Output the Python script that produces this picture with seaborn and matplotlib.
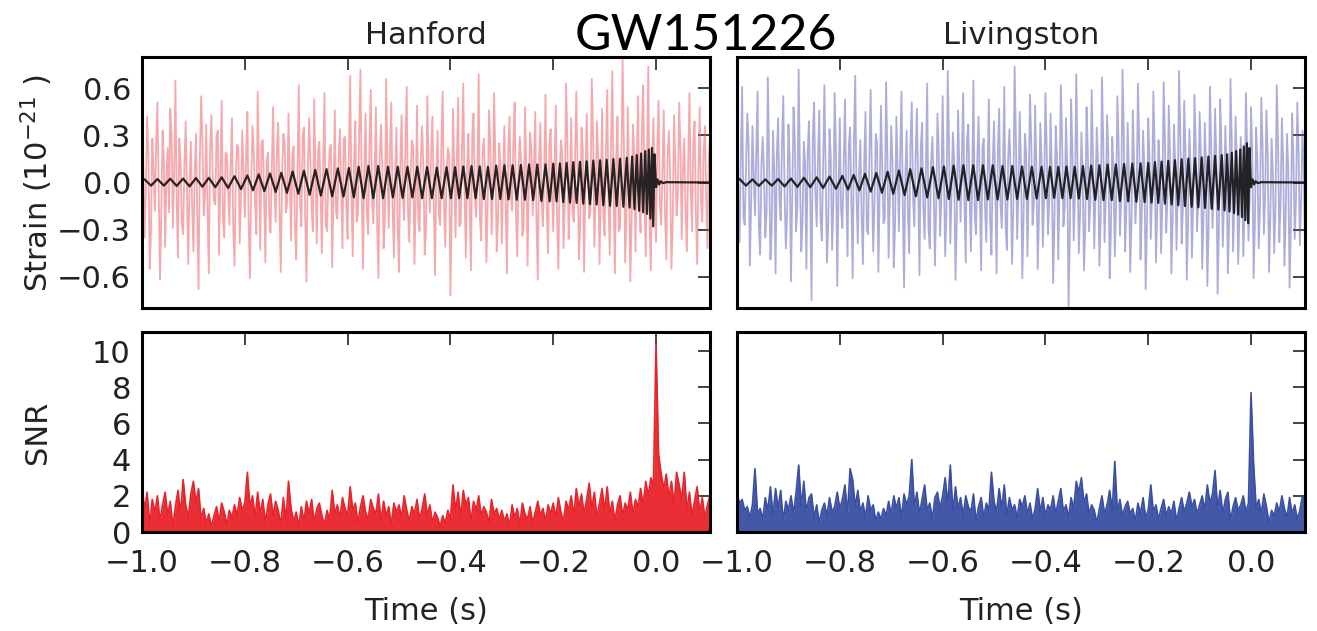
import numpy as np
import matplotlib
matplotlib.use("Agg")
import matplotlib.pyplot as plt
import seaborn as sns

# ---------------- data ----------------
SNR_DT = 0.005     # s, SNR sample spacing, starting at t = -1.0
NOISE_DT = 0.0025  # s, strain sample spacing, starting at t = -1.0

# strain samples at the whole steps (t = -1.0, -0.995, ...)
hanford_noise = [
    0.74,-0.35,0.42,-0.55,0.28,-0.18,0.51,-0.62,0.33,-0.41,0.22,0.47,-0.29,0.65,-0.48,0.15,-0.33,0.39,-0.52,0.26,
    -0.44,0.31,-0.68,0.55,-0.21,0.37,-0.58,0.43,-0.12,0.29,-0.46,0.52,-0.35,0.18,-0.27,0.41,-0.53,0.24,-0.39,0.33,
    -0.22,0.45,-0.61,0.36,-0.14,0.58,-0.43,0.27,-0.51,0.19,-0.32,0.48,-0.25,0.38,-0.57,0.31,-0.19,0.44,-0.37,0.23,
    -0.49,0.62,-0.28,0.35,-0.63,0.41,-0.17,0.53,-0.39,0.26,-0.45,0.57,-0.31,0.21,-0.54,0.46,-0.23,0.34,-0.42,0.29,
    -0.36,0.68,-0.47,0.39,-0.21,0.72,-0.55,0.44,-0.33,0.59,-0.26,0.48,-0.61,0.37,-0.42,0.66,-0.29,0.51,-0.48,0.35,
    -0.57,0.43,-0.24,0.61,-0.38,0.27,-0.52,0.49,-0.31,0.36,-0.46,0.55,-0.19,0.42,-0.59,0.33,-0.27,0.58,-0.41,0.22,
    -0.72,0.47,-0.35,0.54,-0.26,0.63,-0.48,0.31,-0.56,0.44,-0.22,0.69,-0.37,0.28,-0.51,0.46,-0.33,0.57,-0.44,0.25,
    -0.39,0.36,-0.58,0.42,-0.18,0.51,-0.47,0.29,-0.34,0.48,-0.53,0.32,-0.21,0.45,-0.62,0.38,-0.28,0.56,-0.45,0.34,
    -0.31,0.49,-0.55,0.27,-0.42,0.63,-0.36,0.41,-0.25,0.58,-0.49,0.35,-0.57,0.44,-0.23,0.66,-0.41,0.39,-0.52,0.47,
    -0.34,0.59,-0.46,0.71,-0.58,0.42,-0.29,0.78,-0.51,0.48,-0.63,0.37,-0.44,0.55,-0.32,0.62,-0.47,0.74,-0.56,0.41,
    -0.38,0.52,-0.27,0.46,-0.49,0.33,-0.55,0.43,-0.21,0.51,-0.36,0.28,-0.44,0.57,-0.31,0.39,-0.52,0.48,-0.25,0.36,
    -0.42,0.30,
]
# strain samples at the half steps (t = -0.9975, -0.9925, ...)
hanford_noise_mid = [
    0.12,-0.05,0.18,-0.31,0.09,0.24,-0.08,-0.22,0.15,0.04,-0.19,0.31,0.07,-0.12,0.28,-0.26,0.11,-0.07,0.02,-0.15,
    0.06,-0.21,0.13,0.27,-0.09,-0.18,0.21,0.05,-0.14,0.33,0.08,-0.24,0.19,-0.06,0.12,-0.29,0.04,0.22,-0.11,0.07,
    0.17,-0.26,0.03,0.19,-0.33,0.11,0.26,-0.08,0.14,-0.21,0.09,-0.04,0.23,-0.17,0.06,0.25,-0.13,0.02,0.18,-0.28,
    0.08,-0.14,0.29,-0.23,0.05,0.16,-0.31,0.07,0.20,-0.10,0.13,-0.27,0.02,0.24,-0.08,-0.19,0.15,-0.05,0.28,-0.16,
    0.21,-0.09,0.14,-0.25,0.32,-0.06,0.11,-0.20,0.26,-0.13,0.04,-0.28,0.17,0.09,-0.22,0.10,0.23,-0.15,0.06,-0.30,
    0.13,-0.07,0.25,-0.18,0.05,0.22,-0.12,-0.24,0.16,0.08,-0.30,0.11,0.19,-0.09,0.03,-0.21,0.27,-0.14,0.07,0.18,
    -0.20,0.09,0.15,-0.28,0.22,-0.06,0.12,-0.17,0.30,-0.10,0.04,-0.23,0.18,0.06,-0.15,0.26,-0.08,0.13,-0.25,0.10,
    0.03,-0.16,0.21,-0.09,0.27,-0.20,0.08,0.14,-0.29,0.12,-0.05,0.20,0.10,-0.26,0.16,-0.11,0.06,-0.19,0.24,-0.07,
    0.11,-0.24,0.05,0.18,-0.13,0.29,-0.10,-0.20,0.15,0.07,-0.27,0.22,-0.04,0.12,-0.18,0.31,-0.09,0.16,-0.06,-0.22,
    0.19,-0.12,0.27,-0.07,0.14,-0.31,0.09,0.23,-0.16,0.05,-0.24,0.20,0.11,-0.13,0.34,-0.08,0.17,-0.28,0.12,-0.10,
    0.24,-0.15,0.07,-0.21,0.16,0.04,-0.26,0.13,-0.08,0.22,0.09,-0.18,0.11,-0.05,0.25,-0.20,0.06,-0.12,0.19,-0.09,
    0.14,
]

livingston_noise = [
    0.52,-0.38,0.61,-0.27,0.44,-0.53,0.36,-0.21,0.58,-0.46,0.29,-0.35,0.67,-0.49,0.33,-0.58,0.41,-0.24,0.55,-0.42,
    0.37,-0.63,0.48,-0.31,0.72,-0.44,0.26,-0.55,0.39,-0.75,0.51,-0.28,0.46,-0.37,0.62,-0.51,0.34,-0.43,0.57,-0.66,
    0.41,-0.29,0.53,-0.47,0.35,-0.61,0.68,-0.39,0.27,-0.52,0.45,-0.33,0.59,-0.44,0.31,-0.57,0.49,-0.26,0.64,-0.48,
    0.36,-0.54,0.42,-0.31,0.58,-0.67,0.33,-0.45,0.51,-0.28,0.47,-0.59,0.38,-0.36,0.63,-0.42,0.29,-0.53,0.44,-0.34,
    0.55,-0.47,0.71,-0.39,0.32,-0.62,0.46,-0.25,0.57,-0.51,0.37,-0.44,0.65,-0.33,0.42,-0.56,0.28,-0.38,0.53,-0.46,
    0.39,-0.58,0.47,-0.29,0.61,-0.43,0.34,-0.52,0.74,-0.36,0.45,-0.61,0.31,-0.47,0.56,-0.27,0.49,-0.55,0.38,-0.41,
    0.57,-0.33,0.44,-0.64,0.36,-0.49,0.62,-0.28,0.41,-0.79,0.53,-0.37,0.69,-0.45,0.32,-0.56,0.48,-0.31,0.59,-0.42,
    0.35,-0.53,0.67,-0.38,0.43,-0.61,0.29,-0.47,0.55,-0.34,0.72,-0.44,0.38,-0.57,0.46,-0.26,0.63,-0.49,0.33,-0.68,
    0.41,-0.36,0.58,-0.51,0.27,-0.45,0.64,-0.32,0.49,-0.58,0.37,-0.43,0.71,-0.39,0.52,-0.62,0.34,-0.48,0.56,-0.31,
    0.45,-0.55,0.38,-0.66,0.61,-0.29,0.47,-0.71,0.53,-0.41,0.36,-0.58,0.66,-0.44,0.42,-0.52,0.29,-0.47,0.57,-0.37,
    0.48,-0.61,0.35,-0.42,0.54,-0.33,0.46,-0.57,0.28,-0.45,0.62,-0.38,0.41,-0.53,0.31,-0.67,0.44,-0.36,0.51,-0.40,
    0.33,-0.45,
]
livingston_noise_mid = [
    -0.09,0.17,-0.22,0.08,0.26,-0.14,0.05,0.21,-0.28,0.11,0.06,-0.19,0.13,-0.31,0.07,0.18,-0.10,0.24,-0.05,-0.20,
    0.15,-0.08,0.27,-0.16,0.04,-0.25,0.12,0.20,-0.11,0.29,-0.06,0.14,-0.22,0.09,0.03,-0.27,0.16,-0.13,0.21,-0.07,
    -0.18,0.10,-0.04,0.23,-0.15,0.28,-0.09,0.06,-0.21,0.13,-0.30,0.17,0.02,-0.12,0.25,-0.08,0.11,-0.23,0.19,-0.06,
    0.14,-0.27,0.08,0.18,-0.12,0.05,-0.20,0.26,-0.10,0.16,-0.03,0.22,-0.17,0.09,-0.29,0.12,0.04,-0.15,0.20,-0.11,
    0.07,-0.19,0.24,-0.05,0.13,-0.26,0.10,0.18,-0.14,0.28,-0.08,0.03,-0.21,0.15,-0.10,0.23,-0.16,0.06,-0.24,0.12,
    -0.04,0.20,-0.13,0.09,-0.27,0.16,0.05,-0.18,0.30,-0.07,0.12,-0.22,0.19,-0.02,0.25,-0.14,0.08,-0.20,0.14,-0.09,
    0.22,-0.11,0.06,-0.25,0.17,-0.04,0.27,-0.16,0.10,-0.33,0.20,-0.08,0.14,-0.19,0.05,-0.28,0.21,-0.12,0.16,-0.06,
    0.11,-0.23,0.26,-0.09,0.18,-0.30,0.07,-0.15,0.22,-0.10,0.29,-0.18,0.04,-0.24,0.13,-0.07,0.25,-0.20,0.09,-0.27,
    0.16,-0.06,0.21,-0.19,0.10,-0.14,0.28,-0.09,0.17,-0.25,0.12,-0.05,0.30,-0.16,0.20,-0.26,0.08,-0.13,0.23,-0.11,
    0.18,-0.22,0.10,-0.29,0.25,-0.07,0.15,-0.30,0.21,-0.12,0.06,-0.24,0.27,-0.15,0.13,-0.20,0.05,-0.17,0.22,-0.10,
    0.19,-0.26,0.12,-0.14,0.23,-0.08,0.17,-0.24,0.06,-0.18,0.26,-0.13,0.15,-0.22,0.09,-0.28,0.16,-0.11,0.20,-0.13,
    0.12,
]

# times (s) of the template extrema, shared by both detectors
chirp_times = [
    -0.995,-0.9825,-0.970,-0.9575,-0.945,-0.9325,-0.920,-0.9075,-0.895,-0.8825,-0.870,-0.8575,-0.845,-0.8325,-0.820,-0.8075,
    -0.795,-0.784,-0.773,-0.762,-0.751,-0.740,-0.729,-0.718,-0.707,-0.696,-0.685,-0.674,-0.663,-0.652,-0.641,-0.630,-0.619,-0.608,
    -0.5975,-0.588,-0.5785,-0.569,-0.5595,-0.550,-0.5405,-0.531,-0.5215,-0.512,-0.5025,-0.493,-0.4835,-0.474,-0.4645,-0.455,-0.4455,-0.436,-0.4265,-0.417,-0.4075,
    -0.399,-0.391,-0.383,-0.375,-0.367,-0.359,-0.351,-0.343,-0.335,-0.327,-0.319,-0.311,-0.303,-0.295,-0.287,-0.279,-0.271,-0.263,-0.255,-0.247,-0.239,-0.231,-0.223,-0.215,-0.207,
    -0.200,-0.1935,-0.187,-0.1805,-0.174,-0.1675,-0.161,-0.1545,-0.148,-0.1415,-0.135,-0.1285,-0.122,-0.1155,-0.109,-0.1025,-0.096,-0.0895,-0.083,-0.0765,-0.070,-0.0635,-0.057,
    -0.0515,-0.0465,-0.042,-0.0375,-0.033,-0.029,-0.025,-0.021,-0.0175,-0.014,-0.011,-0.008,-0.0055,-0.003,
    0.000,0.003,0.006,0.009,0.013,0.020,0.105,
]

hanford_template = [
    0.02,-0.02,0.022,-0.02,0.024,-0.022,0.025,-0.025,0.028,-0.027,0.03,-0.03,0.033,-0.035,0.04,-0.042,
    0.045,-0.05,0.052,-0.055,0.058,-0.06,0.062,-0.066,0.07,-0.072,0.075,-0.078,0.08,-0.083,0.085,-0.088,0.09,-0.09,
    0.092,-0.095,0.1,-0.1,0.105,-0.1,0.105,-0.1,0.1,-0.095,0.1,-0.098,0.1,-0.095,0.1,-0.1,0.098,-0.1,0.095,-0.1,0.098,
    -0.1,0.098,-0.1,0.102,-0.1,0.105,-0.1,0.102,-0.105,0.1,-0.105,0.108,-0.105,0.11,-0.108,0.11,-0.11,0.112,-0.11,0.115,-0.112,0.115,-0.118,0.115,-0.12,
    0.12,-0.12,0.122,-0.125,0.125,-0.128,0.13,-0.13,0.132,-0.135,0.135,-0.138,0.14,-0.14,0.142,-0.145,0.145,-0.148,0.15,-0.15,0.152,-0.155,0.158,
    -0.16,0.165,-0.17,0.175,-0.18,0.185,-0.19,0.2,-0.2,0.21,-0.23,0.22,-0.28,0.18,
    -0.03,0.02,-0.012,0.008,-0.004,0.002,0.0,
]

livingston_template = [
    0.022,-0.02,0.02,-0.022,0.02,-0.02,0.022,-0.025,0.025,-0.028,0.03,-0.03,0.033,-0.035,0.038,-0.04,
    0.042,-0.045,0.048,-0.05,0.055,-0.058,0.06,-0.065,0.068,-0.072,0.076,-0.08,0.085,-0.088,0.09,-0.095,0.098,-0.1,
    0.102,-0.105,0.108,-0.11,0.11,-0.112,0.11,-0.112,0.11,-0.108,0.11,-0.108,0.105,-0.108,0.105,-0.105,0.102,-0.105,0.1,-0.102,0.1,
    -0.1,0.1,-0.098,0.1,-0.1,0.102,-0.1,0.1,-0.102,0.105,-0.105,0.108,-0.11,0.11,-0.112,0.115,-0.112,0.115,-0.118,0.118,-0.12,0.12,-0.122,0.122,-0.125,
    0.125,-0.128,0.13,-0.13,0.133,-0.135,0.138,-0.14,0.142,-0.145,0.148,-0.15,0.152,-0.155,0.155,-0.158,0.16,-0.162,0.165,-0.168,0.17,-0.172,0.175,
    -0.178,0.18,-0.185,0.19,-0.195,0.2,-0.205,0.21,-0.22,0.23,-0.24,0.25,-0.26,0.22,
    -0.03,0.02,-0.012,0.008,-0.004,0.002,0.0,
]

hanford_snr = [
    2.6,1.2,2.2,0.4,1.8,1.1,2.0,0.6,1.5,2.2,0.9,1.7,0.3,1.4,2.3,1.0,2.9,1.5,0.8,2.1,
    2.8,1.6,2.4,0.7,1.3,0.5,1.0,0.3,0.9,1.4,0.6,1.6,1.1,0.4,1.2,0.8,1.5,0.9,1.9,1.2,
    1.6,3.3,1.4,2.0,0.8,2.2,1.0,1.8,0.5,1.5,2.1,0.9,1.7,1.2,0.4,1.9,0.7,2.8,1.3,0.6,
    1.1,0.3,1.4,0.6,1.7,1.0,1.8,0.5,1.3,1.6,0.9,0.4,1.2,0.7,2.3,1.0,1.5,0.8,1.9,1.3,
    0.9,2.5,1.2,1.6,0.5,1.4,2.0,1.1,0.7,1.8,1.3,1.0,2.1,0.6,1.7,0.9,1.4,0.4,1.6,1.1,
    1.5,0.8,2.0,1.2,0.6,1.4,1.0,1.8,0.7,1.3,2.1,0.9,1.5,0.5,1.1,0.8,0.3,0.9,0.5,1.2,
    0.7,2.6,1.2,2.2,0.8,2.3,1.5,1.9,0.6,1.7,1.2,2.0,0.9,1.4,1.1,0.5,1.8,1.0,1.3,0.7,
    1.2,0.6,1.0,0.3,1.5,0.8,1.3,0.4,1.6,1.0,0.7,1.4,0.5,1.1,1.7,0.9,1.3,0.6,1.5,1.0,
    1.6,0.8,1.9,1.1,0.6,1.7,1.2,2.0,0.9,2.4,1.4,2.1,1.0,1.8,2.7,1.3,2.2,0.8,1.6,2.4,
    1.2,2.5,1.0,1.7,0.6,1.5,2.0,0.9,1.6,1.2,2.2,1.0,1.8,1.4,2.4,1.5,2.8,2.0,3.0,2.6,
    10.4,4.3,3.2,2.4,3.2,1.9,2.8,1.5,3.3,2.6,1.8,3.3,1.2,2.2,0.9,1.7,2.5,1.1,1.9,0.8,
    1.5,2.0,
]

livingston_snr = [
    2.1,1.6,1.8,1.2,1.4,0.8,1.5,3.5,1.0,1.3,0.7,1.9,1.2,2.5,0.9,2.4,1.3,2.3,0.6,1.7,
    1.2,2.0,1.0,2.2,3.7,1.4,2.8,1.1,1.9,2.1,0.8,1.5,0.5,1.2,1.6,0.9,1.9,1.1,1.4,2.2,
    1.3,1.8,2.6,1.0,3.5,2.9,1.4,2.3,1.1,1.6,0.8,2.0,1.2,1.5,0.6,1.1,0.7,1.3,0.9,1.7,
    1.0,2.0,1.3,1.9,0.8,2.1,1.5,2.0,4.0,1.4,2.2,1.0,1.8,2.6,1.2,1.6,0.7,1.9,2.2,1.3,
    2.0,3.0,1.5,3.7,1.1,2.5,1.3,1.9,0.9,2.0,1.4,1.1,2.1,0.6,1.4,1.9,0.8,1.6,1.2,3.3,
    1.7,1.1,2.4,1.3,2.6,0.9,1.9,1.2,1.5,0.8,1.8,1.4,2.0,1.0,1.6,0.7,1.3,2.4,1.1,1.9,
    0.9,1.5,1.2,2.0,1.0,1.7,2.4,1.1,1.5,0.8,1.9,1.3,2.8,2.2,3.0,1.6,2.1,1.0,1.5,1.2,
    0.5,1.3,2.0,1.0,1.5,2.3,1.2,3.9,1.1,1.8,0.9,1.4,1.7,1.0,1.3,0.6,1.6,1.0,1.9,0.8,
    1.2,2.6,1.1,1.5,0.7,1.3,1.8,0.9,1.4,1.0,1.7,0.6,1.3,1.9,1.1,1.6,2.2,1.4,1.8,1.0,
    1.5,2.0,1.2,2.6,1.6,2.1,3.4,1.3,2.3,1.0,1.8,2.2,0.6,1.4,1.9,1.2,1.5,2.0,1.1,1.6,
    7.7,3.8,1.3,1.8,1.0,2.1,1.4,0.5,1.2,0.9,1.6,1.1,2.0,1.3,0.8,1.9,1.0,1.5,0.7,1.2,
    2.0,1.8,
]

detectors = ["Hanford", "Livingston"]
x_ticks = [-1.0, -0.8, -0.6, -0.4, -0.2, 0.0]
strain_ticks = [-0.6, -0.3, 0.0, 0.3, 0.6]
snr_ticks = [0, 2, 4, 6, 8, 10]

# ---------------- style ----------------
sns.set_theme(style="white")
plt.rcParams["font.family"] = ["DejaVu Sans"]
plt.rcParams["axes.unicode_minus"] = True
FS = 22
TXT = "#222222"

W, H = 1317, 631
fig = plt.figure(figsize=(W / 100, H / 100), dpi=100)

def box(x0, y0, x1, y1):
    return [x0 / W, 1 - y1 / H, (x1 - x0) / W, (y1 - y0) / H]

ax_h_top = fig.add_axes(box(142, 57, 710, 308))
ax_l_top = fig.add_axes(box(737, 57, 1305, 308))
ax_h_bot = fig.add_axes(box(142, 332, 710, 532))
ax_l_bot = fig.add_axes(box(737, 332, 1305, 532))

def interleave(a, b):
    out = np.empty(len(a) + len(b))
    out[0::2] = a
    out[1::2] = b
    return out

noise_sets = [interleave(hanford_noise, hanford_noise_mid[:len(hanford_noise) - 1]),
              interleave(livingston_noise, livingston_noise_mid[:len(livingston_noise) - 1])]
templ_sets = [hanford_template, livingston_template]
snr_sets = [hanford_snr, livingston_snr]
noise_cols = [(0.93, 0.33, 0.36), (0.36, 0.36, 0.72)]
snr_cols = ["#e8232a", "#3a4fa3"]

fmt = lambda v: f"{v:.1f}".replace("-", "\u2212")

for i, (axt, axb) in enumerate([(ax_h_top, ax_h_bot), (ax_l_top, ax_l_bot)]):
    nz = noise_sets[i]
    tn = -1.0 + NOISE_DT * np.arange(len(nz))
    sns.lineplot(x=tn, y=nz, ax=axt, color=noise_cols[i], alpha=0.5, lw=1.3,
                 estimator=None, sort=False)
    n = min(len(chirp_times), len(templ_sets[i]))
    sns.lineplot(x=np.asarray(chirp_times[:n]), y=np.asarray(templ_sets[i][:n]), ax=axt,
                 color="#111111", lw=1.6, alpha=0.9, estimator=None, sort=False)

    sn = np.asarray(snr_sets[i])
    ts = -1.0 + SNR_DT * np.arange(len(sn))
    axb.fill_between(ts, 0, sn, color=snr_cols[i], lw=0, alpha=0.95)
    sns.lineplot(x=ts, y=sn, ax=axb, color=snr_cols[i], lw=1.2, estimator=None, sort=False)

    for ax in (axt, axb):
        ax.set_xlim(-1.0, 0.105)
        ax.set_xticks(x_ticks)
        ax.tick_params(direction="in", length=9, width=1.2, top=True, right=True,
                       labelsize=FS, colors=TXT, pad=8)
        ax.tick_params(axis="x", pad=12)
        for sp in ax.spines.values():
            sp.set_linewidth(2.2)
            sp.set_color("black")
        ax.set_xlabel("")
        ax.set_ylabel("")
        ax.grid(False)

    axt.set_ylim(-0.8, 0.8)
    axt.set_yticks(strain_ticks)
    axt.set_xticklabels([])
    axb.set_ylim(0, 11.05)
    axb.set_yticks(snr_ticks)
    axb.set_xticklabels([fmt(v) for v in x_ticks])
    axb.set_xlabel("Time (s)", fontsize=FS, color=TXT, labelpad=14)
    axt.set_title(detectors[i], fontsize=FS, color=TXT, pad=9)

ax_h_top.set_yticklabels([fmt(v) for v in strain_ticks])
ax_h_bot.set_yticklabels([str(v) for v in snr_ticks])
ax_l_top.set_yticklabels([])
ax_l_bot.set_yticklabels([])

fig.text(37 / W, 1 - 183 / H, "Strain (10$^{-21}$ )", rotation=90, fontsize=FS,
         color=TXT, ha="center", va="center")
fig.text(37 / W, 1 - 432 / H, "SNR", rotation=90, fontsize=FS,
         color=TXT, ha="center", va="center")
fig.text(706 / W, 1 - 36 / H, "GW151226", fontsize=36, family=["Lato", "DejaVu Sans"],
         color="black", ha="center", va="center")

fig.savefig("out.png", dpi=100)
